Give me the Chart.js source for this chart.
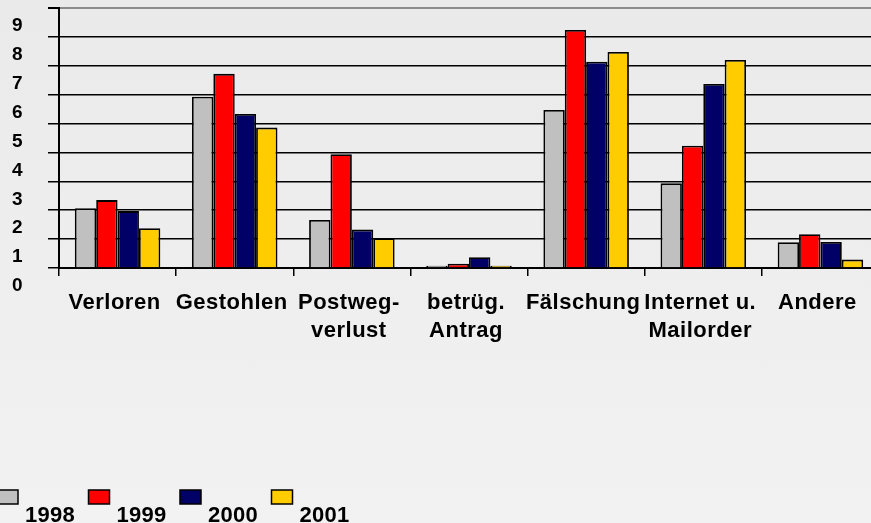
<!DOCTYPE html>
<html>
<head>
<meta charset="utf-8">
<script src="https://cdn.jsdelivr.net/npm/chart.js@4/dist/chart.umd.min.js"></script>
<style>
html,body{margin:0;padding:0;width:871px;height:523px;overflow:hidden;
background:linear-gradient(180deg,#eaeaea 0%,#eeeeee 50%,#f2f2f2 100%);}
#wrap{position:absolute;left:0;top:0;width:880px;height:523px;}
</style>
</head>
<body>
<div id="wrap"><canvas id="c" width="880" height="523"></canvas></div>
<script>
const categories = ['Verloren', 'Gestohlen', ['Postweg-', 'verlust'], ['betrüg.', 'Antrag'], 'Fälschung', ['Internet u.', 'Mailorder'], 'Andere'];
const seriesNames = ['1998', '1999', '2000', '2001'];
const v1998 = [2.07, 5.93, 1.66, 0.08, 5.47, 2.93, 0.89];
const v1999 = [2.35, 6.72, 3.94, 0.15, 8.24, 4.23, 1.17];
const v2000 = [1.97, 5.33, 1.33, 0.37, 7.14, 6.37, 0.90];
const v2001 = [1.38, 4.86, 1.03, 0.08, 7.48, 7.20, 0.29];
const yTicks = [0, 1, 2, 3, 4, 5, 6, 7, 8, 9];
const colors = ['#c0c0c0', '#ff0000', '#000066', '#ffcc00'];

const FONT = '"Liberation Sans", Arial, sans-serif';

const spacingPlugin = {
  id: 'spacing',
  beforeDraw(chart) { try { chart.ctx.letterSpacing = '0.5px'; } catch (e) {} }
};

const legendPlugin = {
  id: 'customLegend',
  afterDraw(chart) {
    const ctx = chart.ctx;
    ctx.save();
    try { ctx.letterSpacing = '0.3px'; } catch (e) {}
    ctx.font = 'bold 22px ' + FONT;
    ctx.textBaseline = 'alphabetic';
    ctx.textAlign = 'left';
    chart.data.datasets.forEach((ds, i) => {
      const x = -3 + i * 91.5;
      ctx.fillStyle = ds.backgroundColor;
      ctx.fillRect(x, 490, 21, 14);
      ctx.strokeStyle = '#000';
      ctx.lineWidth = 1.5;
      ctx.strokeRect(x, 490, 21, 14);
      ctx.fillStyle = '#000';
      ctx.fillText(ds.label, x + 28, 522);
    });
    ctx.restore();
  }
};

new Chart(document.getElementById('c'), {
  type: 'bar',
  data: {
    labels: categories,
    datasets: [v1998, v1999, v2000, v2001].map((d, i) => ({
      label: seriesNames[i],
      data: d,
      backgroundColor: colors[i],
      borderColor: '#000',
      borderWidth: 1.8,
      barPercentage: 1,
      categoryPercentage: 0.73
    }))
  },
  options: {
    responsive: false,
    animation: false,
    layout: { padding: { top: 8, left: 0, right: 1, bottom: 0 } },
    plugins: { legend: { display: false }, tooltip: { enabled: false } },
    scales: {
      x: {
        offset: true,
        grid: { display: true, drawOnChartArea: false, drawTicks: true, tickLength: 8, offset: true, color: '#000', lineWidth: 1.5 },
        border: { display: true, color: '#000', width: 2 },
        ticks: { color: '#000', font: { family: FONT, size: 22, weight: 'bold', lineHeight: 1.27 }, padding: 13, labelOffset: -3, maxRotation: 0, autoSkip: false },
        afterFit(s) { s.height = 255; s.paddingLeft = 0; s.paddingRight = 0; }
      },
      y: {
        min: 0, max: 9,
        afterBuildTicks(s) { s.ticks = yTicks.map(v => ({ value: v })); },
        grid: {
          color: ctx => (ctx.tick && ctx.tick.value === 9) ? '#8a8a8a' : '#000',
          lineWidth: ctx => (ctx.tick && ctx.tick.value === 9) ? 2 : 1.5,
          tickColor: '#000', tickLength: 11, drawTicks: true
        },
        border: { display: true, color: '#000', width: 2 },
        ticks: { color: '#000', font: { family: FONT, size: 19, weight: 'bold' }, padding: 25, labelOffset: 18 },
        afterFit(s) { s.width = 59; s.paddingTop = 0; s.paddingBottom = 0; }
      }
    }
  },
  plugins: [spacingPlugin, legendPlugin]
});
</script>
</body>
</html>
